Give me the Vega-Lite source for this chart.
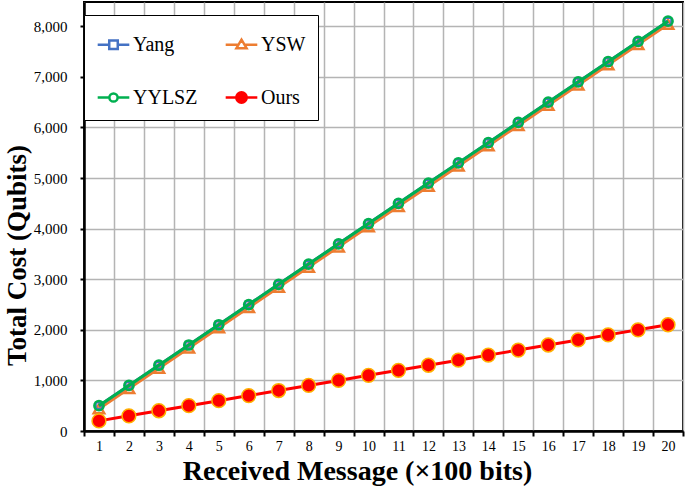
{
  "$schema": "https://vega.github.io/schema/vega-lite/v6.json",
  "width": 599,
  "height": 429,
  "autosize": "none",
  "padding": {"left": 84, "top": 2, "right": 2, "bottom": 58},
  "background": "white",
  "config": {
    "view": {"stroke": "black", "strokeWidth": 2},
    "font": "Liberation Serif",
    "axis": {
      "labelFont": "Liberation Serif",
      "labelFontSize": 15,
      "labelColor": "black",
      "titleFont": "Liberation Serif",
      "titleFontSize": 28,
      "titleFontWeight": "bold",
      "titleColor": "black",
      "domainColor": "black",
      "domainWidth": 2.5,
      "tickColor": "black",
      "tickWidth": 2,
      "gridColor": "#b4b4b4",
      "gridWidth": 1.5,
      "gridOpacity": 1
    }
  },
  "data": {
    "values": [
      {"x": 1, "series": "Yang", "cost": 500}, {"x": 2, "series": "Yang", "cost": 900}, {"x": 3, "series": "Yang", "cost": 1300}, {"x": 4, "series": "Yang", "cost": 1700}, {"x": 5, "series": "Yang", "cost": 2100},
      {"x": 6, "series": "Yang", "cost": 2500}, {"x": 7, "series": "Yang", "cost": 2900}, {"x": 8, "series": "Yang", "cost": 3300}, {"x": 9, "series": "Yang", "cost": 3700}, {"x": 10, "series": "Yang", "cost": 4100},
      {"x": 11, "series": "Yang", "cost": 4500}, {"x": 12, "series": "Yang", "cost": 4900}, {"x": 13, "series": "Yang", "cost": 5300}, {"x": 14, "series": "Yang", "cost": 5700}, {"x": 15, "series": "Yang", "cost": 6100},
      {"x": 16, "series": "Yang", "cost": 6500}, {"x": 17, "series": "Yang", "cost": 6900}, {"x": 18, "series": "Yang", "cost": 7300}, {"x": 19, "series": "Yang", "cost": 7700}, {"x": 20, "series": "Yang", "cost": 8100},
      {"x": 1, "series": "YSW", "cost": 440}, {"x": 2, "series": "YSW", "cost": 840}, {"x": 3, "series": "YSW", "cost": 1240}, {"x": 4, "series": "YSW", "cost": 1640}, {"x": 5, "series": "YSW", "cost": 2040},
      {"x": 6, "series": "YSW", "cost": 2440}, {"x": 7, "series": "YSW", "cost": 2840}, {"x": 8, "series": "YSW", "cost": 3240}, {"x": 9, "series": "YSW", "cost": 3640}, {"x": 10, "series": "YSW", "cost": 4040},
      {"x": 11, "series": "YSW", "cost": 4440}, {"x": 12, "series": "YSW", "cost": 4840}, {"x": 13, "series": "YSW", "cost": 5240}, {"x": 14, "series": "YSW", "cost": 5640}, {"x": 15, "series": "YSW", "cost": 6040},
      {"x": 16, "series": "YSW", "cost": 6440}, {"x": 17, "series": "YSW", "cost": 6840}, {"x": 18, "series": "YSW", "cost": 7240}, {"x": 19, "series": "YSW", "cost": 7640}, {"x": 20, "series": "YSW", "cost": 8040},
      {"x": 1, "series": "YYLSZ", "cost": 500}, {"x": 2, "series": "YYLSZ", "cost": 900}, {"x": 3, "series": "YYLSZ", "cost": 1300}, {"x": 4, "series": "YYLSZ", "cost": 1700}, {"x": 5, "series": "YYLSZ", "cost": 2100},
      {"x": 6, "series": "YYLSZ", "cost": 2500}, {"x": 7, "series": "YYLSZ", "cost": 2900}, {"x": 8, "series": "YYLSZ", "cost": 3300}, {"x": 9, "series": "YYLSZ", "cost": 3700}, {"x": 10, "series": "YYLSZ", "cost": 4100},
      {"x": 11, "series": "YYLSZ", "cost": 4500}, {"x": 12, "series": "YYLSZ", "cost": 4900}, {"x": 13, "series": "YYLSZ", "cost": 5300}, {"x": 14, "series": "YYLSZ", "cost": 5700}, {"x": 15, "series": "YYLSZ", "cost": 6100},
      {"x": 16, "series": "YYLSZ", "cost": 6500}, {"x": 17, "series": "YYLSZ", "cost": 6900}, {"x": 18, "series": "YYLSZ", "cost": 7300}, {"x": 19, "series": "YYLSZ", "cost": 7700}, {"x": 20, "series": "YYLSZ", "cost": 8100},
      {"x": 1, "series": "Ours", "cost": 200}, {"x": 2, "series": "Ours", "cost": 300}, {"x": 3, "series": "Ours", "cost": 400}, {"x": 4, "series": "Ours", "cost": 500}, {"x": 5, "series": "Ours", "cost": 600},
      {"x": 6, "series": "Ours", "cost": 700}, {"x": 7, "series": "Ours", "cost": 800}, {"x": 8, "series": "Ours", "cost": 900}, {"x": 9, "series": "Ours", "cost": 1000}, {"x": 10, "series": "Ours", "cost": 1100},
      {"x": 11, "series": "Ours", "cost": 1200}, {"x": 12, "series": "Ours", "cost": 1300}, {"x": 13, "series": "Ours", "cost": 1400}, {"x": 14, "series": "Ours", "cost": 1500}, {"x": 15, "series": "Ours", "cost": 1600},
      {"x": 16, "series": "Ours", "cost": 1700}, {"x": 17, "series": "Ours", "cost": 1800}, {"x": 18, "series": "Ours", "cost": 1900}, {"x": 19, "series": "Ours", "cost": 2000}, {"x": 20, "series": "Ours", "cost": 2100}
    ]
  },
  "encoding": {
    "x": {
      "field": "x",
      "type": "quantitative",
      "scale": {"domain": [0.5, 20.5], "nice": false, "zero": false},
      "axis": {
        "title": "Received Message (×100 bits)",
        "values": [0.5, 1.5, 2.5, 3.5, 4.5, 5.5, 6.5, 7.5, 8.5, 9.5, 10.5, 11.5, 12.5, 13.5, 14.5, 15.5, 16.5, 17.5, 18.5, 19.5, 20.5],
        "labelExpr": "datum.value > 20 ? '' : format(datum.value + 0.5, 'd')",
        "labelOffset": 15,
        "labelFontSize": 14,
        "labelOverlap": false,
        "labelFlush": false,
        "labelBound": false,
        "tickSize": 5,
        "labelPadding": 3,
        "titleBaseline": "alphabetic",
        "titleX": 273,
        "titleY": 48,
        "grid": true
      }
    },
    "y": {
      "field": "cost",
      "type": "quantitative",
      "scale": {"domain": [0, 8480], "nice": false},
      "axis": {
        "title": "Total Cost (Qubits)",
        "values": [0, 1000, 2000, 3000, 4000, 5000, 6000, 7000, 8000],
        "format": ",d",
        "tickSize": 4,
        "labelPadding": 13,
        "titleFontSize": 27,
        "titleBaseline": "alphabetic",
        "titleX": -59,
        "titleY": 253,
        "grid": true
      }
    },
    "color": {
      "field": "series",
      "type": "nominal",
      "scale": {"domain": ["Yang", "YYLSZ", "YSW", "Ours"], "range": ["#4472C4", "#00B050", "#ED7D31", "#FF0000"]},
      "legend": {
        "title": null,
        "orient": "none",
        "legendX": 0,
        "legendY": 13,
        "columns": 2,
        "padding": 12,
        "strokeColor": "black",
        "fillColor": "white",
        "symbolSize": 1000,
        "symbolStrokeWidth": 2.5,
        "labelFont": "Liberation Serif",
        "labelFontSize": 20,
        "labelColor": "black",
        "labelOffset": 2,
        "rowPadding": 25,
        "columnPadding": 22,
        "labelExpr": "(datum.label == 'YSW' || datum.label == 'Ours') ? datum.label + '\u00a0\u00a0\u00a0' : datum.label",
        "encode": {
          "symbols": {
            "update": {
              "shape": {"signal": "datum.value == 'Yang' ? 'M-1,0H-0.27M0.27,0H1M-0.27,-0.27H0.27V0.27H-0.27ZM-0.27,-0.27V0.27H0.27V-0.27Z' : datum.value == 'YSW' ? 'M-1,0H-0.18M0.18,0H1M0,-0.32L0.32,0.22H-0.32ZM0,-0.32L-0.32,0.22H0.32Z' : datum.value == 'YYLSZ' ? 'M-1,0H-0.26M0.26,0H1M0.26,0A0.26,0.26 0 1,1 -0.26,0A0.26,0.26 0 1,1 0.26,0ZM0.26,0A0.26,0.26 0 1,0 -0.26,0A0.26,0.26 0 1,0 0.26,0Z' : 'M-1,0H1M0.33,0A0.33,0.33 0 1,1 -0.33,0A0.33,0.33 0 1,1 0.33,0Z'"},
              "strokeWidth": {"value": 2.5},
              "opacity": {"value": 1}
            }
          }
        }
      }
    }
  },
  "layer": [
    {
      "transform": [{"filter": "datum.series == 'YSW'"}],
      "mark": {"type": "line", "strokeWidth": 3, "point": {"shape": "triangle-up", "filled": false, "size": 110, "strokeWidth": 2.5}}
    },
    {
      "transform": [{"filter": "datum.series == 'Yang'"}],
      "mark": {"type": "line", "strokeWidth": 3, "point": {"shape": "square", "filled": false, "size": 40, "strokeWidth": 2}}
    },
    {
      "transform": [{"filter": "datum.series == 'YYLSZ'"}],
      "mark": {"type": "line", "strokeWidth": 3, "point": {"shape": "circle", "filled": false, "size": 85, "strokeWidth": 2.5}}
    },
    {
      "transform": [{"filter": "datum.series == 'Ours'"}],
      "mark": {"type": "line", "strokeWidth": 3, "point": {"shape": "circle", "filled": true, "size": 190, "stroke": "#FFB000", "strokeWidth": 1.5, "opacity": 1}}
    }
  ]
}
